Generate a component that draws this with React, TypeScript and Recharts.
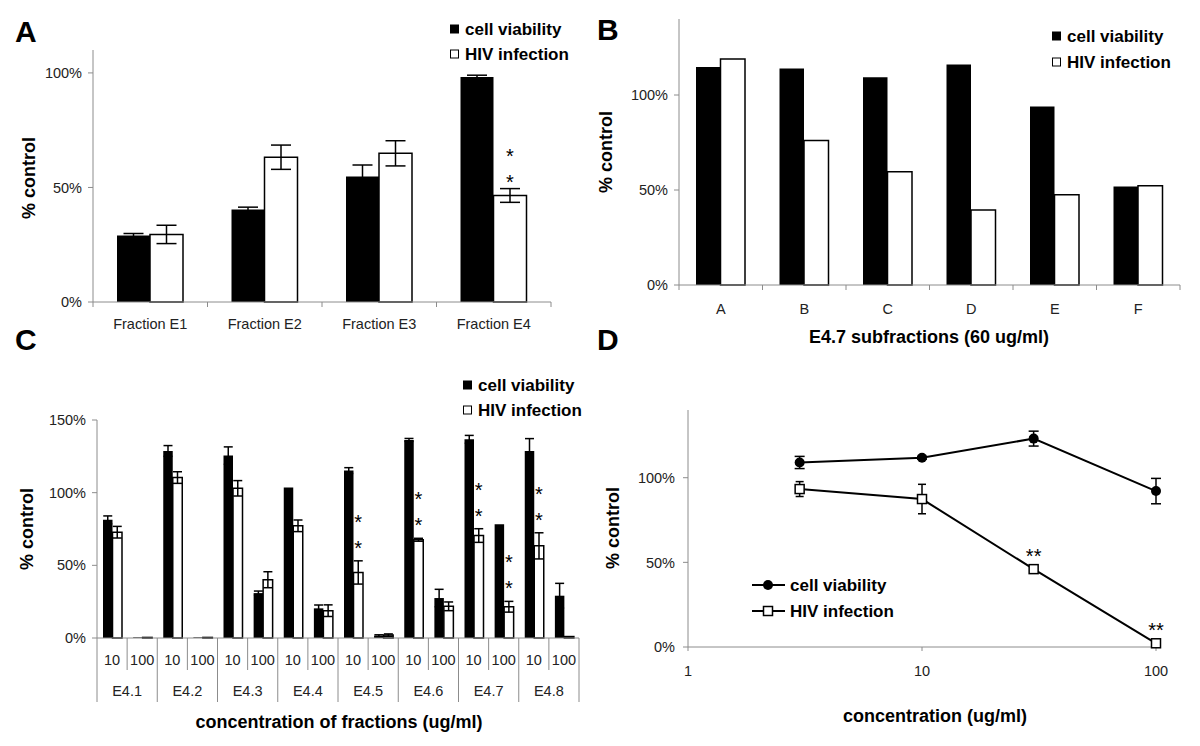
import React from 'react';
import { Bar, BarChart, ErrorBar, LabelList, Line, LineChart, XAxis, YAxis } from 'recharts';

// A: crude fractions E1-E4
const fractionNames = ['Fraction E1', 'Fraction E2', 'Fraction E3', 'Fraction E4'];
const fractionViability = [29, 40.4, 54.8, 98.2];
const fractionViabilityErr = [0.9, 1, 5, 0.8];
const fractionHiv = [29.5, 63.2, 64.9, 46.5];
const fractionHivErr = [4, 5.3, 5.5, 3];
const fractionStars = [0, 0, 0, 2];

// B: E4.7 subfractions
const subNames = ['A', 'B', 'C', 'D', 'E', 'F'];
const subViability = [114.7, 114, 109.3, 116, 93.9, 51.8];
const subHiv = [118.9, 76.1, 59.6, 39.5, 47.5, 52.3];

// C: E4 sub-fractions at 10 / 100 ug/ml
const e4Groups = ['E4.1', 'E4.2', 'E4.3', 'E4.4', 'E4.5', 'E4.6', 'E4.7', 'E4.8'];
const e4Doses = ['10', '100'];
const e4Viability = [81.3, 0.4, 128.7, 0.4, 125.5, 30.9, 103.5, 20.4, 115.2, 1.6, 136.3, 27.5, 136.7, 78.3, 128.7, 29.1];
const e4ViabilityErr = [2.7, 0, 3.7, 0, 6, 1.4, 0, 2.3, 2, 0.6, 1, 6, 2.7, 0, 8.5, 8.5];
const e4Hiv = [72.8, 0.4, 110.4, 0.4, 103, 40.1, 77.2, 18.8, 45.1, 2, 67.6, 21.8, 70.5, 21.5, 63.4, 1];
const e4HivErr = [4, 0, 4, 0, 5.3, 5.5, 4, 4, 8, 0.8, 1, 3, 4.7, 3.7, 9, 0];
const e4Stars = [0, 0, 0, 0, 0, 0, 0, 0, 2, 0, 2, 0, 2, 2, 2, 0];

// D: dose response
const doseConc = [3, 10, 30, 100];
const doseViability = [109, 111.8, 123.1, 92.1];
const doseViabilityErr = [3.6, 0.8, 4.4, 7.5];
const doseHiv = [93.3, 87.4, 46, 2.2];
const doseHivErr = [4.4, 8.7, 1, 0];
const doseStars = ['', '', '**', '**'];

const AXIS = '#8c8c8c';
const TICK = '#222';
const FONT = '"Liberation Sans", Arial, sans-serif';

const fractionRows = fractionNames.map((name, i) => ({
  name,
  viab: fractionViability[i],
  viabErr: fractionViabilityErr[i],
  hiv: fractionHiv[i],
  hivErr: fractionHivErr[i],
  stars: fractionStars[i],
}));

const subRows = subNames.map((name, i) => ({ name, viab: subViability[i], hiv: subHiv[i] }));

const e4Rows = e4Groups.flatMap((group, g) =>
  e4Doses.map((dose, d) => {
    const i = g * 2 + d;
    return {
      id: `${group}-${dose}`,
      group,
      dose,
      viab: e4Viability[i],
      viabErr: e4ViabilityErr[i],
      hiv: e4Hiv[i],
      hivErr: e4HivErr[i],
      stars: e4Stars[i],
    };
  })
);

const doseRows = doseConc.map((conc, i) => ({
  conc,
  viab: doseViability[i],
  viabErr: doseViabilityErr[i],
  hiv: doseHiv[i],
  hivErr: doseHivErr[i],
  stars: doseStars[i],
}));

const pct = (v: number) => `${v}%`;

// category tick with tick marks between categories (Excel style)
const CategoryTick = (props: any) => {
  const { x, y, payload, index, visibleTicksCount, gap } = props;
  const half = payload?.offset ?? 0;
  const last = index === visibleTicksCount - 1;
  return (
    <g>
      <line x1={x - half} x2={x - half} y1={y} y2={y + 5} stroke={AXIS} />
      {last && <line x1={x + half} x2={x + half} y1={y} y2={y + 5} stroke={AXIS} />}
      <text x={x} y={y + gap} textAnchor="middle" fontSize={14.5} fill={TICK}>
        {payload.value}
      </text>
    </g>
  );
};

// two level axis for panel C
const DoseTick = (props: any) => {
  const { x, y, payload, index, visibleTicksCount } = props;
  const half = payload?.offset ?? 0;
  const row = e4Rows[index];
  const groupStart = index % 2 === 0;
  const last = index === visibleTicksCount - 1;
  return (
    <g>
      <line x1={x - half} x2={x - half} y1={y} y2={y + (groupStart ? 64 : 32)} stroke={AXIS} />
      {last && <line x1={x + half} x2={x + half} y1={y} y2={y + 64} stroke={AXIS} />}
      <text x={x} y={y + 27} textAnchor="middle" fontSize={14.5} fill={TICK}>
        {row.dose}
      </text>
      {!groupStart && (
        <text x={x - half} y={y + 58} textAnchor="middle" fontSize={14.5} fill={TICK}>
          {row.group}
        </text>
      )}
    </g>
  );
};

// significance stars stacked above the error bar
const starsAbove = (vals: number[], errs: number[], stars: number[], gap: number) => (props: any) => {
  const { index } = props;
  const vb = props.viewBox || props;
  const n = stars[index];
  if (!n || !vb || !vals[index]) return null;
  const pxPerUnit = vb.height / vals[index];
  const top = vb.y - errs[index] * pxPerUnit;
  const cx = vb.x + vb.width / 2;
  return (
    <g key={`s-${index}`}>
      {Array.from({ length: n }).map((_, k) => (
        <text key={k} x={cx} y={top - gap - k * 26 + 11} textAnchor="middle" fontSize={20} fill="#000">
          *
        </text>
      ))}
    </g>
  );
};

const yAxisProps = {
  axisLine: { stroke: AXIS },
  tickLine: { stroke: AXIS },
  tickSize: 5,
  tickMargin: 6,
  width: 60,
  tick: { fill: TICK, fontSize: 14.5 },
  tickFormatter: pct,
};

const BarLegend = ({ x, y1, y2 }: { x: number; y1: number; y2: number }) => (
  <g fontSize={17} fontWeight="bold" fill="#000">
    <rect x={x} y={y1 - 4.5} width={9} height={9} fill="#000" />
    <text x={x + 15} y={y1 + 6}>cell viability</text>
    <rect x={x + 0.5} y={y2 - 4} width={8} height={8} fill="#fff" stroke="#000" strokeWidth={1} />
    <text x={x + 15} y={y2 + 6}>HIV infection</text>
  </g>
);

const YTitle = ({ x, y }: { x: number; y: number }) => (
  <text transform={`translate(${x},${y}) rotate(-90)`} y={6} textAnchor="middle" fontSize={18} fontWeight="bold">
    % control
  </text>
);

export default function App() {
  return (
    <div
      style={{
        position: 'absolute',
        left: 0,
        top: 0,
        width: 1200,
        height: 746,
        background: '#fff',
        fontFamily: FONT,
        overflow: 'hidden',
      }}
    >
      {/* A */}
      <div style={{ position: 'absolute', left: 0, top: 0 }}>
        <BarChart width={600} height={340} data={fractionRows} barSize={33} barGap={0} margin={{ top: 50, right: 49, bottom: 8, left: 33 }}>
          <XAxis dataKey="name" height={30} axisLine={{ stroke: AXIS }} tickLine={false} tickSize={0} tickMargin={0} interval={0} tick={<CategoryTick gap={27} />} />
          <YAxis {...yAxisProps} domain={[0, 110]} ticks={[0, 50, 100]} />
          <Bar dataKey="viab" fill="#000" isAnimationActive={false}>
            <ErrorBar dataKey="viabErr" width={10} stroke="#000" strokeWidth={1.5} isAnimationActive={false} />
          </Bar>
          <Bar dataKey="hiv" fill="#fff" stroke="#000" strokeWidth={1.5} isAnimationActive={false}>
            <ErrorBar dataKey="hivErr" width={10} stroke="#000" strokeWidth={1.5} isAnimationActive={false} />
            <LabelList dataKey="stars" content={starsAbove(fractionHiv, fractionHivErr, fractionStars, 11)} />
          </Bar>
        </BarChart>
      </div>

      {/* B */}
      <div style={{ position: 'absolute', left: 600, top: 0 }}>
        <BarChart width={600} height={340} data={subRows} barSize={24.5} barGap={0} margin={{ top: 19, right: 20, bottom: 25, left: 19 }}>
          <XAxis dataKey="name" height={30} axisLine={{ stroke: AXIS }} tickLine={false} tickSize={0} tickMargin={0} interval={0} tick={<CategoryTick gap={29} />} />
          <YAxis {...yAxisProps} domain={[0, 140]} ticks={[0, 50, 100]} />
          <Bar dataKey="viab" fill="#000" isAnimationActive={false} />
          <Bar dataKey="hiv" fill="#fff" stroke="#000" strokeWidth={1.5} isAnimationActive={false} />
        </BarChart>
      </div>

      {/* C */}
      <div style={{ position: 'absolute', left: 0, top: 340 }}>
        <BarChart width={600} height={406} data={e4Rows} barSize={9.5} barGap={0} margin={{ top: 80, right: 21, bottom: 78, left: 37 }}>
          <XAxis dataKey="id" height={30} axisLine={{ stroke: AXIS }} tickLine={false} tickSize={0} tickMargin={0} interval={0} tick={<DoseTick />} />
          <YAxis {...yAxisProps} domain={[0, 150]} ticks={[0, 50, 100, 150]} />
          <Bar dataKey="viab" fill="#000" isAnimationActive={false}>
            <ErrorBar dataKey="viabErr" width={4.5} stroke="#000" strokeWidth={1.5} isAnimationActive={false} />
          </Bar>
          <Bar dataKey="hiv" fill="#fff" stroke="#000" strokeWidth={1.5} isAnimationActive={false}>
            <ErrorBar dataKey="hivErr" width={4.5} stroke="#000" strokeWidth={1.5} isAnimationActive={false} />
            <LabelList dataKey="stars" content={starsAbove(e4Hiv, e4HivErr, e4Stars, 17)} />
          </Bar>
        </BarChart>
      </div>

      {/* D */}
      <div style={{ position: 'absolute', left: 600, top: 340 }}>
        <LineChart width={600} height={406} data={doseRows} margin={{ top: 70, right: 44, bottom: 69, left: 28 }}>
          <XAxis
            dataKey="conc"
            type="number"
            scale="log"
            domain={[1, 100]}
            ticks={[1, 10, 100]}
            height={30}
            axisLine={{ stroke: AXIS }}
            tickLine={{ stroke: AXIS }}
            tickSize={4}
            tickMargin={15}
            tick={{ fill: TICK, fontSize: 14.5 }}
          />
          <YAxis {...yAxisProps} tickMargin={8} domain={[0, 140]} ticks={[0, 50, 100]} />
          <Line
            dataKey="viab"
            stroke="#000"
            strokeWidth={2}
            isAnimationActive={false}
            activeDot={false}
            dot={(p: any) => <circle key={`v-${p.index}`} cx={p.cx} cy={p.cy} r={5} fill="#000" />}
          >
            <ErrorBar dataKey="viabErr" width={5} stroke="#000" strokeWidth={1.5} isAnimationActive={false} />
          </Line>
          <Line
            dataKey="hiv"
            stroke="#000"
            strokeWidth={2}
            isAnimationActive={false}
            activeDot={false}
            dot={(p: any) => (
              <rect key={`h-${p.index}`} x={p.cx - 4.5} y={p.cy - 4.5} width={9} height={9} fill="#fff" stroke="#000" strokeWidth={1.5} />
            )}
          >
            <ErrorBar dataKey="hivErr" width={4} stroke="#000" strokeWidth={1.5} isAnimationActive={false} />
            <LabelList
              dataKey="stars"
              content={(props: any) => {
                const vb = props.viewBox || props;
                if (!props.value) return null;
                return (
                  <text key={`st-${props.index}`} x={vb.x} y={vb.y - 6} textAnchor="middle" fontSize={20} fill="#000">
                    {props.value}
                  </text>
                );
              }}
            />
          </Line>
        </LineChart>
      </div>

      {/* titles, panel letters, legends */}
      <svg width={1200} height={746} style={{ position: 'absolute', left: 0, top: 0, pointerEvents: 'none' }} fontFamily={FONT}>
        <g fontSize={30} fontWeight="bold" fill="#000">
          <text x={15} y={42}>A</text>
          <text x={597} y={40}>B</text>
          <text x={15} y={350}>C</text>
          <text x={597} y={350}>D</text>
        </g>
        <YTitle x={29} y={178} />
        <YTitle x={606} y={152} />
        <YTitle x={27} y={529} />
        <YTitle x={613} y={528} />
        <g fontSize={18} fontWeight="bold" fill="#000" textAnchor="middle">
          <text x={929} y={343}>E4.7 subfractions (60 ug/ml)</text>
          <text x={339} y={728}>concentration of fractions (ug/ml)</text>
          <text x={935} y={722}>concentration (ug/ml)</text>
        </g>
        <BarLegend x={450} y1={29} y2={54} />
        <BarLegend x={1052} y1={36} y2={62} />
        <BarLegend x={463} y1={385} y2={410} />
        <g fontSize={17} fontWeight="bold" fill="#000">
          <line x1={752} x2={785} y1={585} y2={585} stroke="#000" strokeWidth={2} />
          <circle cx={768} cy={585} r={5} fill="#000" />
          <text x={790} y={591}>cell viability</text>
          <line x1={752} x2={785} y1={611} y2={611} stroke="#000" strokeWidth={2} />
          <rect x={763.5} y={606.5} width={9} height={9} fill="#fff" stroke="#000" strokeWidth={1.5} />
          <text x={790} y={617}>HIV infection</text>
        </g>
      </svg>
    </div>
  );
}
